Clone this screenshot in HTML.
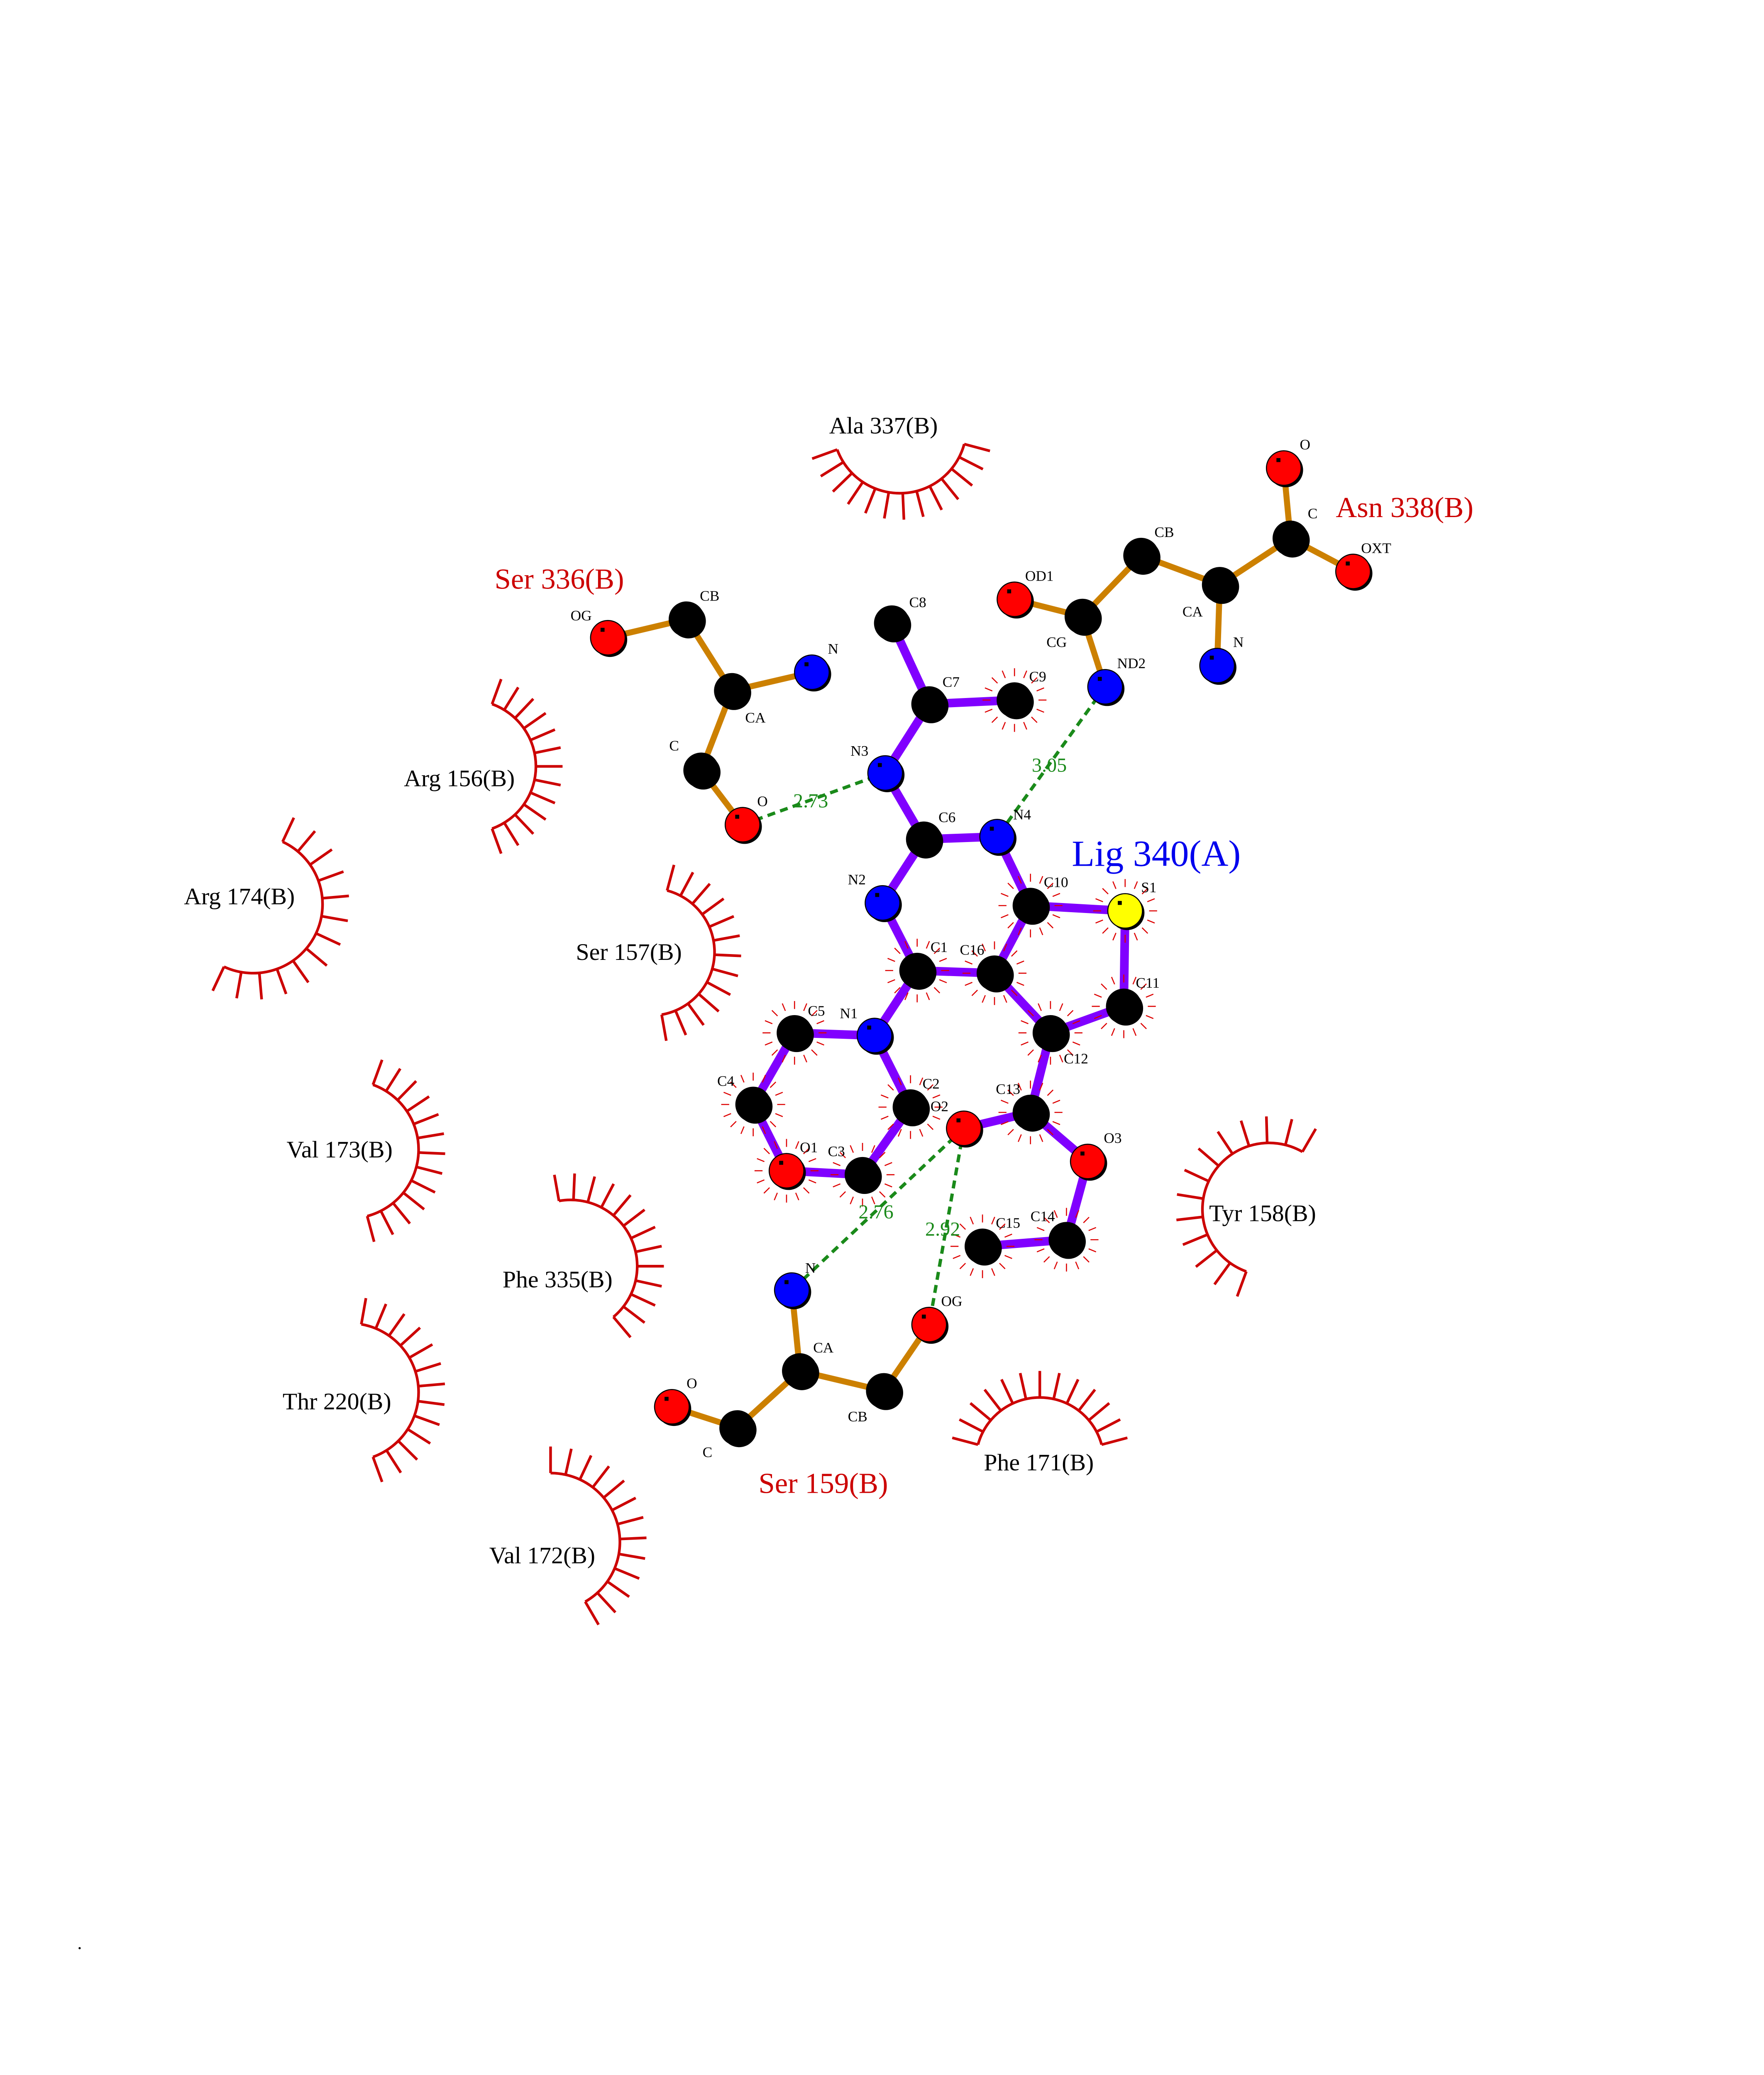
<!DOCTYPE html>
<html><head><meta charset="utf-8">
<style>
html,body{margin:0;padding:0;background:#fff;width:100%;height:100%;overflow:hidden;}
svg{display:block;width:92.5vw;height:100vh;}
text{font-family:"Liberation Serif",serif;}
.al{font-size:11px;fill:#000;}
.hl{font-size:18px;fill:#000;}
.rl{font-size:22px;fill:#cc0000;}
.dl{font-size:15px;fill:#1a8a1a;}
</style></head><body>
<svg id="s" viewBox="0 0 1224 1565" preserveAspectRatio="none" xmlns="http://www.w3.org/2000/svg">
<rect width="1224" height="1584" fill="#fff"/>
<g id="arcs"></g>
<g id="hb"></g>
<g id="bonds"></g>
<g id="spk"></g>
<g id="atoms"></g>
<text class="hl" x="622" y="327">Ala 337(B)</text>
<text class="hl" x="303" y="593">Arg 156(B)</text>
<text class="hl" x="138" y="682">Arg 174(B)</text>
<text class="hl" x="432" y="724">Ser 157(B)</text>
<text class="hl" x="215" y="873">Val 173(B)</text>
<text class="hl" x="907" y="921">Tyr 158(B)</text>
<text class="hl" x="377" y="971">Phe 335(B)</text>
<text class="hl" x="212" y="1063">Thr 220(B)</text>
<text class="hl" x="738" y="1109">Phe 171(B)</text>
<text class="hl" x="367" y="1179">Val 172(B)</text>
<text class="rl" x="371" y="444">Ser 336(B)</text>
<text class="rl" x="1002" y="390">Asn 338(B)</text>
<text class="rl" x="569" y="1126">Ser 159(B)</text>
<text x="804" y="653" style="font-size:28px;fill:#0000ee">Lig 340(A)</text>
<text class="dl" x="595" y="609">2.73</text>
<text class="dl" x="774" y="582">3.05</text>
<text class="dl" x="644" y="919">2.76</text>
<text class="dl" x="694" y="932">2.92</text>
<g class="al">
<text class="al" x="682" y="458">C8</text>
<text class="al" x="707" y="518">C7</text>
<text class="al" x="772" y="514">C9</text>
<text class="al" x="638" y="570">N3</text>
<text class="al" x="704" y="620">C6</text>
<text class="al" x="760" y="618">N4</text>
<text class="al" x="636" y="667">N2</text>
<text class="al" x="783" y="669">C10</text>
<text class="al" x="856" y="673">S1</text>
<text class="al" x="698" y="718">C1</text>
<text class="al" x="720" y="720">C16</text>
<text class="al" x="852" y="745">C11</text>
<text class="al" x="630" y="768">N1</text>
<text class="al" x="798" y="802">C12</text>
<text class="al" x="606" y="766">C5</text>
<text class="al" x="538" y="819">C4</text>
<text class="al" x="692" y="821">C2</text>
<text class="al" x="698" y="838">O2</text>
<text class="al" x="747" y="825">C13</text>
<text class="al" x="600" y="869">O1</text>
<text class="al" x="621" y="872">C3</text>
<text class="al" x="828" y="862">O3</text>
<text class="al" x="747" y="926">C15</text>
<text class="al" x="773" y="921">C14</text>
<text class="al" x="428" y="468">OG</text>
<text class="al" x="525" y="453">CB</text>
<text class="al" x="559" y="545">CA</text>
<text class="al" x="621" y="493">N</text>
<text class="al" x="502" y="566">C</text>
<text class="al" x="568" y="608">O</text>
<text class="al" x="975" y="339">O</text>
<text class="al" x="981" y="391">C</text>
<text class="al" x="1021" y="417">OXT</text>
<text class="al" x="866" y="405">CB</text>
<text class="al" x="887" y="465">CA</text>
<text class="al" x="925" y="488">N</text>
<text class="al" x="785" y="488">CG</text>
<text class="al" x="769" y="438">OD1</text>
<text class="al" x="838" y="504">ND2</text>
<text class="al" x="604" y="960">N</text>
<text class="al" x="610" y="1020">CA</text>
<text class="al" x="636" y="1072">CB</text>
<text class="al" x="706" y="985">OG</text>
<text class="al" x="527" y="1099">C</text>
<text class="al" x="515" y="1047">O</text>
</g>
<text x="58" y="1470" style="font-size:14px">.</text>
</svg>
<script>
var NS="http://www.w3.org/2000/svg";
function el(p,t,a){var e=document.createElementNS(NS,t);for(var k in a)e.setAttribute(k,a[k]);document.getElementById(p).appendChild(e);return e;}
var A={C8:[669,470,'k'],C7:[697,531,'k'],C9:[761,528,'k'],N3:[664,583,'b'],C6:[693,633,'k'],N4:[748,631,'b'],N2:[662,681,'b'],C10:[773,683,'k'],S1:[844,687,'y'],C1:[688,732,'k'],C16:[746,734,'k'],C11:[843,759,'k'],N1:[656,781,'b'],C12:[788,779,'k'],C5:[596,779,'k'],C4:[565,833,'k'],C2:[683,835,'k'],C13:[773,839,'k'],O2:[723,851,'r'],O1:[590,883,'r'],C3:[647,886,'k'],O3:[816,876,'r'],C15:[737,940,'k'],C14:[800,935,'k'],
aOG:[456,481,'r'],aCB:[515,467,'k'],aCA:[549,521,'k'],aN:[609,507,'b'],aC:[526,581,'k'],aO:[557,622,'r'],
bO:[963,353,'r'],bC:[968,406,'k'],bOXT:[1015,431,'r'],bCB:[856,419,'k'],bCA:[915,441,'k'],bN:[913,502,'b'],bCG:[812,465,'k'],bOD1:[761,452,'r'],bND2:[829,518,'b'],
cN:[594,973,'b'],cCA:[600,1034,'k'],cCB:[663,1049,'k'],cOG:[697,999,'r'],cC:[553,1077,'k'],cO:[504,1061,'r']};
var LB=[['C8','C7'],['C7','C9'],['C7','N3'],['N3','C6'],['C6','N4'],['C6','N2'],['N2','C1'],['N4','C10'],['C10','S1'],['C10','C16'],['C1','C16'],['S1','C11'],['C11','C12'],['C16','C12'],['C1','N1'],['N1','C5'],['N1','C2'],['C5','C4'],['C4','O1'],['O1','C3'],['C3','C2'],['C12','C13'],['C13','O2'],['C13','O3'],['O3','C14'],['C14','C15']];
var RB=[['aOG','aCB'],['aCB','aCA'],['aCA','aN'],['aCA','aC'],['aC','aO'],['bO','bC'],['bC','bOXT'],['bC','bCA'],['bCA','bCB'],['bCA','bN'],['bCB','bCG'],['bCG','bOD1'],['bCG','bND2'],['cN','cCA'],['cCA','cCB'],['cCB','cOG'],['cCA','cC'],['cC','cO']];
LB.forEach(function(b){el('bonds','line',{x1:A[b[0]][0],y1:A[b[0]][1],x2:A[b[1]][0],y2:A[b[1]][1],stroke:'#8000ff','stroke-width':6.5});});
RB.forEach(function(b){el('bonds','line',{x1:A[b[0]][0],y1:A[b[0]][1],x2:A[b[1]][0],y2:A[b[1]][1],stroke:'#cc8000','stroke-width':4.5});});
[['aO','N3'],['bND2','N4'],['O2','cN'],['O2','cOG']].forEach(function(b){el('hb','line',{x1:A[b[0]][0],y1:A[b[0]][1],x2:A[b[1]][0],y2:A[b[1]][1],stroke:'#1a8a1a','stroke-width':2.5,'stroke-dasharray':'6,4'});});
var col={k:'#000',b:'#0000ff',r:'#ff0000',y:'#ffff00'};
['C9','C10','S1','C1','C16','C11','C12','C13','C5','C4','C2','C3','C15','C14','O1'].forEach(function(n){var a=A[n];for(var i=0;i<16;i++){var t=i*Math.PI/8;el('spk','line',{x1:a[0]+18*Math.cos(t),y1:a[1]+18*Math.sin(t),x2:a[0]+24*Math.cos(t),y2:a[1]+24*Math.sin(t),stroke:'#dd0000','stroke-width':0.8});}});
for(var n in A){var a=A[n];el('atoms','circle',{cx:a[0]+1.5,cy:a[1]+1.5,r:13,fill:'#000'});el('atoms','circle',{cx:a[0],cy:a[1],r:13,fill:col[a[2]],stroke:'#000','stroke-width':0.8});el('atoms','rect',{x:a[0]-5.5,y:a[1]-7.5,width:3,height:3,fill:'#000'});}
var H=[[675,322,50,15,160],[352,578,50,-70,70],[190,682,52,-65,115],[488,718,48,-75,80],[262,867,52,-70,75],[952,912,50,110,300],[428,955,50,-100,50],[780,1102,48,195,345],[262,1050,52,-80,70],[413,1163,52,-90,60]];
H.forEach(function(h){var cx=h[0],cy=h[1],r=h[2],a0=h[3]*Math.PI/180,a1=h[4]*Math.PI/180;
var d='M'+(cx+r*Math.cos(a0))+' '+(cy+r*Math.sin(a0))+' A'+r+' '+r+' 0 '+((a1-a0)>Math.PI?1:0)+' 1 '+(cx+r*Math.cos(a1))+' '+(cy+r*Math.sin(a1));
el('arcs','path',{d:d,fill:'none',stroke:'#cc0000','stroke-width':2});
var n=12;for(var i=0;i<=n;i++){var t=a0+(a1-a0)*i/n;el('arcs','line',{x1:cx+r*Math.cos(t),y1:cy+r*Math.sin(t),x2:cx+(r+20)*Math.cos(t),y2:cy+(r+20)*Math.sin(t),stroke:'#cc0000','stroke-width':2});}});
</script>
</body></html>
